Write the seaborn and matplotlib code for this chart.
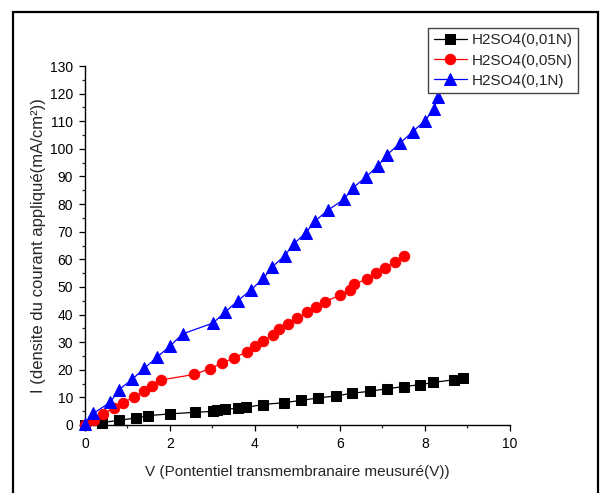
import numpy as np
import pandas as pd
import matplotlib
matplotlib.use('Agg')
import matplotlib.pyplot as plt
import seaborn as sns
from matplotlib.ticker import MultipleLocator
from matplotlib.patches import Rectangle

# valeurs
v_001 = [0.0, 0.40, 0.79, 1.19, 1.49, 2.0, 2.59, 3.01, 3.10, 3.29, 3.60, 3.80, 4.19,
         4.69, 5.09, 5.49, 5.90, 6.29, 6.70, 7.10, 7.50, 7.89, 8.20, 8.69, 8.89]
i_001 = [0.0, 0.8, 1.7, 2.5, 3.4, 4.0, 4.6, 4.9, 5.4, 5.7, 6.0, 6.4, 7.4,
         8.1, 8.9, 9.8, 10.5, 11.5, 12.2, 13.1, 13.9, 14.6, 15.4, 16.4, 17.0]

v_005 = [0.0, 0.22, 0.43, 0.68, 0.90, 1.15, 1.39, 1.58, 1.79, 2.57, 2.94, 3.23, 3.51,
         3.81, 4.00, 4.20, 4.42, 4.56, 4.78, 5.00, 5.22, 5.44, 5.64, 6.00, 6.23,
         6.33, 6.64, 6.86, 7.07, 7.29, 7.51]
i_005 = [0.0, 1.9, 4.0, 6.2, 8.1, 10.1, 12.2, 14.2, 16.3, 18.3, 20.4, 22.4, 24.4,
         26.4, 28.5, 30.5, 32.6, 34.6, 36.7, 38.7, 40.8, 42.8, 44.7, 46.9, 48.8,
         51.0, 52.9, 55.0, 57.0, 59.1, 61.1]

v_01 = [0.0, 0.20, 0.60, 0.80, 1.11, 1.40, 1.70, 2.01, 2.30, 3.01, 3.30, 3.60, 3.91,
        4.20, 4.41, 4.70, 4.91, 5.20, 5.41, 5.71, 6.10, 6.31, 6.61, 6.90, 7.11,
        7.41, 7.71, 8.00, 8.21, 8.30]
i_01 = [0.5, 4.2, 8.3, 12.8, 16.5, 20.6, 24.6, 28.7, 33.0, 36.9, 40.9, 45.0, 49.0,
        53.1, 57.3, 61.3, 65.5, 69.7, 73.8, 77.7, 81.8, 85.9, 89.8, 93.9, 97.9,
        102.0, 106.2, 110.2, 114.4, 118.7]

labels = ['H2SO4(0,01N)', 'H2SO4(0,05N)', 'H2SO4(0,1N)']

sns.set_style('ticks')
plt.rcParams['font.family'] = ['Liberation Sans', 'DejaVu Sans']
plt.rcParams['xtick.direction'] = 'out'
plt.rcParams['ytick.direction'] = 'out'

fig = plt.figure(figsize=(6.01, 4.93), dpi=100)
ax = fig.add_axes([0.1414, 0.138, 0.707, 0.728])

series = [
    (v_001, i_001, labels[0], 'black', 's', 6.5),
    (v_005, i_005, labels[1], 'red', 'o', 7.5),
    (v_01, i_01, labels[2], 'blue', '^', 8),
]
for v, i, lab, col, mk, ms in series:
    d = pd.DataFrame({'V': v, 'I': i})
    sns.lineplot(data=d, x='V', y='I', ax=ax, color=col, marker=mk, markersize=ms,
                 markeredgecolor=col, linewidth=0.9, sort=False, label=lab,
                 clip_on=False, zorder=3)

ax.set_xlim(0, 10)
ax.set_ylim(0, 130)
ax.xaxis.set_major_locator(MultipleLocator(2))
ax.xaxis.set_minor_locator(MultipleLocator(1))
ax.yaxis.set_major_locator(MultipleLocator(10))
ax.yaxis.set_minor_locator(MultipleLocator(5))
ax.tick_params(which='major', length=4.5, width=0.9, labelsize=10, colors='black', pad=4)
ax.tick_params(which='minor', length=2.5, width=0.9)
sns.despine(ax=ax)
for s in ['left', 'bottom']:
    ax.spines[s].set_linewidth(1.0)
    ax.spines[s].set_color('black')

ax.set_xlabel('V (Pontentiel transmembranaire meusuré(V))', fontsize=11, labelpad=10)
ax.set_ylabel('I (densite du courant appliqué(mA/cm²))', fontsize=12, labelpad=3)

leg = ax.legend(loc='upper right', bbox_to_anchor=(0.962, 0.943),
                bbox_transform=fig.transFigure, fontsize=11, frameon=True,
                fancybox=False, framealpha=1, edgecolor='#444444',
                handlelength=2.2, handletextpad=0.3, borderpad=0.35,
                labelspacing=0.4, borderaxespad=0)
leg.get_frame().set_linewidth(1.0)

# cadre extérieur
fig.patches.append(Rectangle((13 / 601, -0.05), 585 / 601, 1.05 - 12 / 493,
                             transform=fig.transFigure, fill=False,
                             edgecolor='black', linewidth=1.6))

fig.savefig('out.png', dpi=100)
